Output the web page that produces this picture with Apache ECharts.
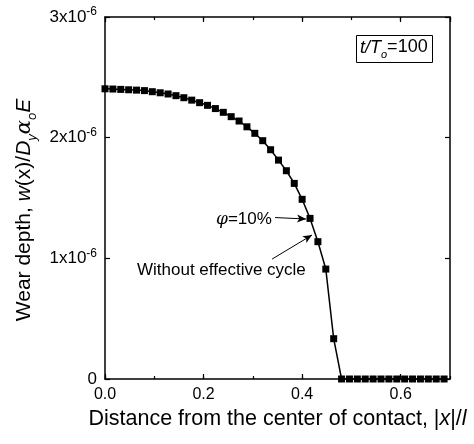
<!DOCTYPE html>
<html>
<head>
<meta charset="utf-8">
<script src="https://cdn.jsdelivr.net/npm/echarts@6/dist/echarts.min.js"></script>
<style>
  html, body { margin: 0; padding: 0; background: #fff; }
  #main { width: 474px; height: 444px; }
</style>
</head>
<body>
<div id="main"></div>
<script>
// distance from the center of contact |x|/l
var xPos = [0, 0.016, 0.032, 0.048, 0.064, 0.08, 0.096, 0.112, 0.128, 0.144,
  0.16, 0.176, 0.192, 0.208, 0.224, 0.24, 0.256, 0.272, 0.288, 0.304,
  0.32, 0.336, 0.352, 0.368, 0.384, 0.4, 0.416, 0.432, 0.448, 0.464,
  0.48, 0.496, 0.512, 0.528, 0.544, 0.56, 0.576, 0.592, 0.608, 0.624,
  0.64, 0.656, 0.672, 0.688];
// wear depth, in units of 1x10^-6
var wear = [2.405, 2.403, 2.400, 2.397, 2.394, 2.390, 2.381, 2.372, 2.362, 2.348,
  2.331, 2.311, 2.290, 2.268, 2.241, 2.210, 2.174, 2.138, 2.090, 2.036,
  1.975, 1.900, 1.814, 1.726, 1.621, 1.489, 1.331, 1.138, 0.911, 0.334,
  0, 0, 0, 0, 0, 0, 0, 0, 0, 0,
  0, 0, 0, 0];
var xTickLabels = ['0.0', '0.2', '0.4', '0.6'];
var yTickLabels = ['0', '1', '2', '3'];

var FONT = 'Liberation Sans';

var points = xPos.map(function (x, i) { return [x, wear[i]]; });

var myChart = echarts.init(document.getElementById('main'));

function xAxisBase(pos, interval, tickLen, showLine) {
  return {
    type: 'value', position: pos, min: 0, max: 0.7, interval: interval,
    axisLine: { show: showLine, onZero: false, lineStyle: { color: '#000', width: 1.5 } },
    axisTick: { show: true, inside: true, length: tickLen, lineStyle: { color: '#000', width: 1.2 } },
    axisLabel: { show: false },
    splitLine: { show: false }
  };
}

var bottomX = xAxisBase('bottom', 0.2, 5, true);
bottomX.axisLabel = {
  show: true, margin: 8, showMaxLabel: false, color: '#000',
  fontFamily: FONT, fontSize: 16,
  formatter: function (v) {
    var k = Math.round(v * 10) / 2;
    return xTickLabels[k] !== undefined ? xTickLabels[k] : '';
  }
};
bottomX.name = 'Distance from the center of contact, |{i|x}|/{i|l}';
bottomX.nameLocation = 'middle';
bottomX.nameGap = 27;
bottomX.nameTextStyle = {
  color: '#000', fontFamily: FONT, fontSize: 21.5,
  rich: { i: { fontStyle: 'italic', fontFamily: FONT, fontSize: 21.5, color: '#000' } }
};

var topX = xAxisBase('top', 0.2, 5, true);
var bottomMinor = xAxisBase('bottom', 0.1, 3, false);
var topMinor = xAxisBase('top', 0.1, 3, false);

function yAxisBase(pos) {
  return {
    type: 'value', position: pos, min: 0, max: 3, interval: 1,
    axisLine: { show: true, onZero: false, lineStyle: { color: '#000', width: 1.5 } },
    axisTick: { show: true, inside: true, length: 5, lineStyle: { color: '#000', width: 1.2 } },
    axisLabel: { show: false },
    splitLine: { show: false }
  };
}

var leftY = yAxisBase('left');
leftY.axisLabel = {
  show: true, margin: 8, align: 'right', color: '#000', fontFamily: FONT, fontSize: 17,
  formatter: function (v) {
    var s = yTickLabels[Math.round(v)];
    if (s === '0') return '{m|0}';
    return '{m|' + s + 'x10}{s|-6}';
  },
  rich: {
    m: { fontFamily: FONT, fontSize: 17, lineHeight: 22, verticalAlign: 'middle', color: '#000' },
    s: { fontFamily: FONT, fontSize: 12, lineHeight: 11, verticalAlign: 'top', color: '#000' }
  }
};
leftY.name = '{n|Wear depth, }{i|w}{n|(x)/}{i|D}{s|y}{g|α}{s|o}{i|E}';
leftY.nameLocation = 'middle';
leftY.nameGap = 64;
leftY.nameTextStyle = {
  color: '#000', fontFamily: FONT, fontSize: 21, lineHeight: 28, verticalAlign: 'middle',
  padding: [0, 24, 0, 0],
  rich: {
    n: { fontFamily: FONT, fontSize: 21, lineHeight: 28, verticalAlign: 'middle', color: '#000' },
    i: { fontStyle: 'italic', fontFamily: FONT, fontSize: 21, lineHeight: 28, verticalAlign: 'middle', color: '#000' },
    g: { fontStyle: 'italic', fontFamily: 'DejaVu Serif', fontSize: 21, lineHeight: 28, verticalAlign: 'middle', color: '#000' },
    s: { fontStyle: 'italic', fontFamily: FONT, fontSize: 13, lineHeight: 13, verticalAlign: 'bottom', color: '#000' }
  }
};

var rightY = yAxisBase('right');

var option = {
  animation: false,
  backgroundColor: '#fff',
  title: {
    text: '{i|t/T}{s|o}{n|=100}',
    left: 356, top: 32,
    padding: [3, 5, 3, 4],
    borderColor: '#000', borderWidth: 1,
    textStyle: {
      fontWeight: 'normal',
      rich: {
        i: { fontStyle: 'italic', fontWeight: 'normal', fontFamily: FONT, fontSize: 18, lineHeight: 25, verticalAlign: 'middle', color: '#000' },
        s: { fontStyle: 'italic', fontWeight: 'normal', fontFamily: FONT, fontSize: 11, lineHeight: 11, verticalAlign: 'bottom', color: '#000' },
        n: { fontWeight: 'normal', fontFamily: FONT, fontSize: 18, lineHeight: 25, verticalAlign: 'middle', color: '#000' }
      }
    }
  },
  grid: { left: 105, right: 24, top: 17, bottom: 65 },
  xAxis: [bottomX, topX, bottomMinor, topMinor],
  yAxis: [leftY, rightY],
  graphic: [
    {
      type: 'text', left: 216, top: 211,
      style: {
        text: '{g|φ}{n|=10%}',
        rich: {
          g: { fontStyle: 'italic', fontFamily: 'DejaVu Serif', fontSize: 17, color: '#000' },
          n: { fontFamily: FONT, fontSize: 17, color: '#000' }
        }
      }
    },
    {
      type: 'text', left: 137, top: 262,
      style: { text: 'Without effective cycle', fontFamily: FONT, fontSize: 17, fill: '#000' }
    }
  ],
  series: [{
    type: 'line',
    xAxisIndex: 0, yAxisIndex: 0,
    data: points,
    symbol: 'rect',
    symbolSize: 7,
    itemStyle: { color: '#000' },
    lineStyle: { color: '#000', width: 1.5 },
    clip: false,
    markLine: {
      silent: true,
      symbol: ['none', 'arrow'],
      symbolSize: [6, 9],
      lineStyle: { color: '#000', width: 1, type: 'solid' },
      label: { show: false },
      data: [
        [{ coord: [0.345, 1.338] }, { coord: [0.408, 1.326] }],
        [{ coord: [0.339, 0.994] }, { coord: [0.42, 1.193] }]
      ]
    }
  }]
};

myChart.setOption(option);
</script>
</body>
</html>
